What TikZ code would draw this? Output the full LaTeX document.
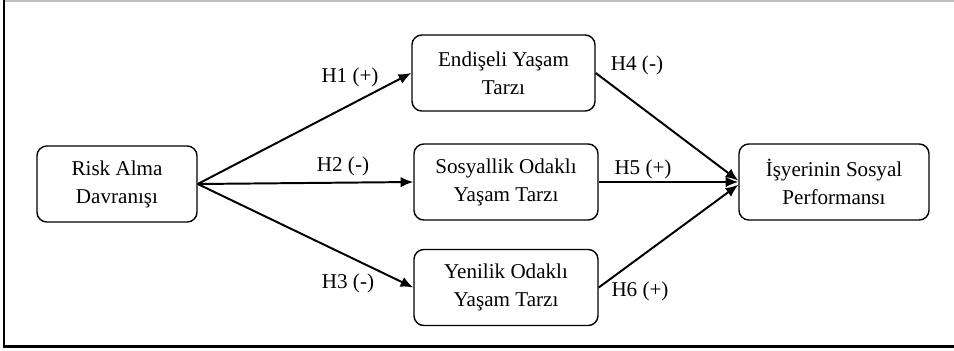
\documentclass[tikz,border=0pt]{standalone}
\usepackage{fontspec}
\setmainfont{Liberation Serif}
\usetikzlibrary{arrows.meta}

\tikzset{
  kutu/.style={draw, line width=1pt, rounded corners=7pt, align=center,
    minimum height=1.9cm, font=\fontsize{15}{20}\selectfont},
  hip/.style={font=\fontsize{15}{18}\selectfont},
  ok/.style={line width=1.4pt, -{Latex[length=9pt,width=7.5pt]}}
}

\begin{document}
\begin{tikzpicture}[x=0.025cm,y=-0.025cm]
\useasboundingbox (0,0) rectangle (954,350);
% frame
\draw [gray!50, line width=0.8pt] (4,1)--(954,1);
\draw [line width=1.5pt] (4,0)--(4,346.5)--(954,346.5);

% boxes
\node [kutu, minimum width=4cm] (risk) at (117,184) {Risk Alma\\Davranışı};
\node [kutu, minimum width=4.575cm] (endis) at (503.5,73) {Endişeli Yaşam\\Tarzı};
\node [kutu, minimum width=4.6cm] (sosyal) at (506,182) {Sosyallik Odaklı\\Yaşam Tarzı};
\node [kutu, minimum width=4.6cm] (yeni) at (506,287.5) {Yenilik Odaklı\\Yaşam Tarzı};
\node [kutu, minimum width=4.75cm] (isy) at (834,182) {İşyerinin Sosyal\\Performansı};

% arrows
\draw [ok] (risk.east) -- (endis.west);
\draw [ok] (risk.east) -- (sosyal.west);
\draw [ok] (risk.east) -- (yeni.west);
\draw [ok] (endis.east) -- ([yshift=1pt]isy.west);
\draw [ok] (sosyal.east) -- (isy.west);
\draw [ok] (yeni.east) -- ([yshift=-2pt]isy.west);

% labels
\node [hip] (h1) at (350,77) {H1 (+)};
\node [hip] (h2) at (343,166) {H2 (-)};
\node [hip] (h3) at (348,283) {H3 (-)};
\node [hip] (h4) at (637,65) {H4 (-)};
\node [hip] (h5) at (643,169) {H5 (+)};
\node [hip] (h6) at (640,291) {H6 (+)};
\end{tikzpicture}
\end{document}
